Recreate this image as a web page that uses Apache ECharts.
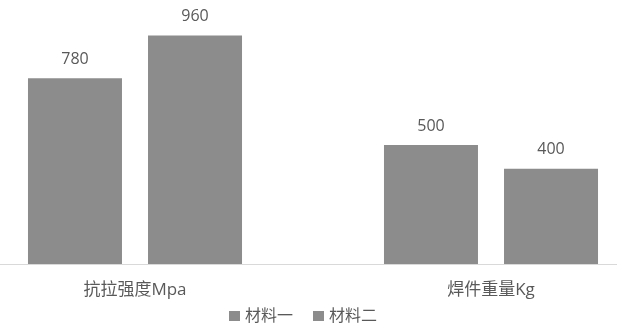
<!DOCTYPE html>
<html>
<head>
<meta charset="utf-8">
<script src="https://cdn.jsdelivr.net/npm/echarts@6/dist/echarts.min.js"></script>
<style>
  html, body { margin: 0; padding: 0; background: #fff; overflow: hidden; width: 617px; height: 327px; }
  /* the plot area runs past both edges of the page */
  #chart { position: absolute; left: -43px; top: 0; width: 712px; height: 327px; }
</style>
</head>
<body>
<div id="chart"></div>
<script>
// Categories and series values
const categories = ['抗拉强度Mpa', '焊件重量Kg'];
const seriesNames = ['材料一', '材料二'];
const material1 = [780, 500];
const material2 = [960, 400];

const barColor = '#8c8c8c';
const textColor = '#595959';
const fontFamily = '"Open Sans", "Noto Sans CJK SC", sans-serif';

const chart = echarts.init(document.getElementById('chart'));

const labelStyle = {
  show: true,
  position: 'top',
  distance: 11,
  color: textColor,
  fontSize: 16,
  fontFamily: fontFamily
};

chart.setOption({
  animation: false,
  grid: { left: 0, right: 0, top: 26, bottom: 63, containLabel: false },
  legend: {
    data: seriesNames,
    top: 303,
    left: 267,
    itemWidth: 11,
    itemHeight: 10,
    itemGap: 20,
    icon: 'rect',
    textStyle: { color: textColor, fontSize: 16, fontFamily: fontFamily }
  },
  xAxis: {
    type: 'category',
    data: categories,
    axisLine: { lineStyle: { color: '#d9d9d9', width: 1 } },
    axisTick: { show: false },
    axisLabel: { color: textColor, fontSize: 17, margin: 18, fontFamily: fontFamily }
  },
  yAxis: {
    type: 'value',
    min: 0,
    max: 1000,
    show: false,
    splitLine: { show: false }
  },
  series: [
    {
      name: seriesNames[0],
      type: 'bar',
      data: material1,
      barWidth: 94,
      barGap: '27.7%',
      itemStyle: { color: barColor },
      label: labelStyle
    },
    {
      name: seriesNames[1],
      type: 'bar',
      data: material2,
      barWidth: 94,
      barGap: '27.7%',
      itemStyle: { color: barColor },
      label: labelStyle
    }
  ]
});
</script>
</body>
</html>
